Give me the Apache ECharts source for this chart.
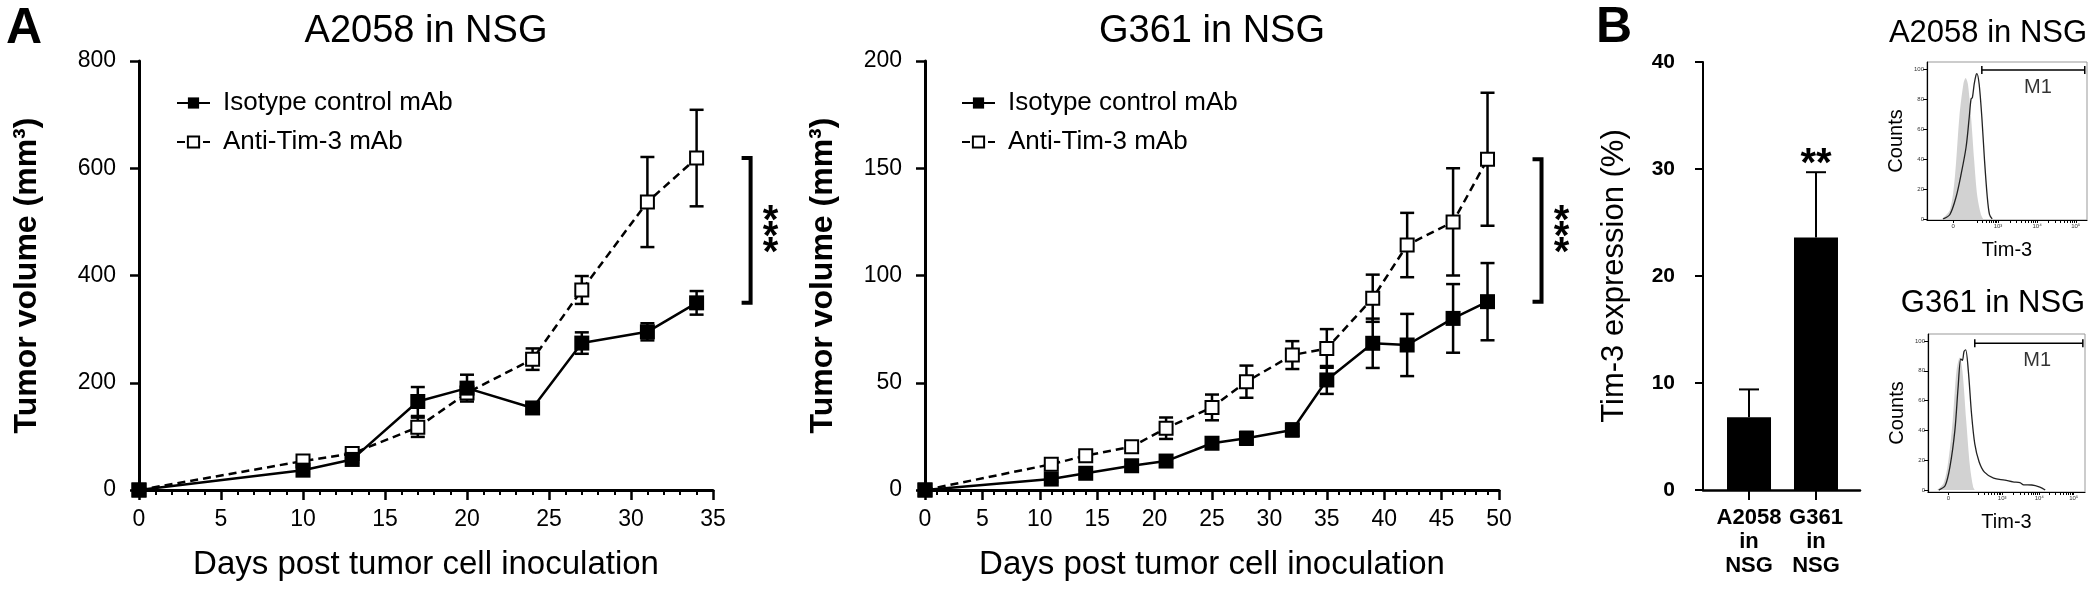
<!DOCTYPE html>
<html>
<head>
<meta charset="utf-8">
<script src="https://cdn.jsdelivr.net/npm/echarts@6/dist/echarts.min.js"></script>
<style>
html, body { margin: 0; padding: 0; background: #fff; }
#chart { width: 2100px; height: 591px; }
</style>
</head>
<body>
<div id="chart"></div>
<script>
const FONT = "'Liberation Sans', Arial, sans-serif";
const isoName = 'Isotype control mAb';
const antiName = 'Anti-Tim-3 mAb';

// A2058 in NSG (mean, SEM)
const daysA = [0, 10, 13, 17, 20, 24, 27, 31, 34];
const isoA = [0, 37, 57, 165, 190, 153, 274, 295, 349];
const isoAErr = [3, 5, 6, 27, 25, 7, 20, 16, 22];
const antiA = [0, 54, 68, 117, 181, 244, 373, 537, 619];
const antiAErr = [3, 5, 6, 18, 10, 20, 26, 84, 90];

// G361 in NSG
const daysG = [0, 11, 14, 18, 21, 25, 28, 32, 35, 39, 42, 46, 49];
const isoG = [0, 5.1, 7.8, 11.3, 13.5, 21.8, 24.1, 28, 51.3, 68.4, 67.6, 80, 87.8];
const isoGErr = [0.5, 1.2, 1.5, 2.3, 1.5, 2.5, 3, 3, 6.5, 11.5, 14.5, 16, 18];
const antiG = [0, 12, 16, 20.2, 28.8, 38.5, 50.5, 62.9, 66, 89.4, 114.2, 125, 154.2];
const antiGErr = [0.5, 1.5, 1.5, 2, 5, 6, 7.5, 6.5, 9, 11, 15, 25, 31];

// panel B
const barCats = ['A2058\nin\nNSG', 'G361\nin\nNSG'];
const barVals = [6.8, 23.6];
const barErrs = [2.6, 6.1];
const barSig = ['', '**'];

// flow histograms (x in display units: 0 -> "0", 1 -> 10^3)
const histTickLabels = ['0', '10³', '10⁴', '10⁵'];
const h1TickPos = [0, 1, 1.87, 2.73];
const h2TickPos = [0, 1, 1.69, 2.33];
const h1GrayX = [-0.25, -0.07, 0.04, 0.14, 0.23, 0.28, 0.33, 0.40, 0.47, 0.54, 0.62, 0.67];
const h1GrayY = [0, 6, 28, 68, 90, 94, 90, 68, 39, 15, 3, 0];
const h1LineX = [-0.22, -0.07, 0.07, 0.18, 0.29, 0.36, 0.40, 0.43, 0.47, 0.51, 0.53, 0.58, 0.64, 0.70, 0.76, 0.81, 0.87];
const h1LineY = [0, 3, 15, 30, 48, 68, 80, 81, 90, 96, 97, 90, 68, 39, 15, 3, 0];
const h2GrayX = [-0.21, -0.09, 0, 0.08, 0.15, 0.21, 0.26, 0.33, 0.40, 0.46, 0.49];
const h2GrayY = [0, 4.5, 20, 47, 80, 89, 80, 47, 16, 2, 0];
const h2LineX = [-0.18, -0.06, 0.03, 0.12, 0.18, 0.23, 0.26, 0.29, 0.32, 0.37, 0.43, 0.49, 0.57, 0.67, 0.84, 1.05, 1.2, 1.33, 1.4, 1.55, 1.7, 1.8];
const h2LineY = [0, 3, 16, 40, 69, 88, 87, 93, 94, 80, 51, 31, 19, 12, 8, 6.7, 5.5, 5, 3.5, 3.4, 2, 0];
const h1Gate = [0.64, 2.93], h1GateY = 99.3, h1LabelPos = [1.89, 88];
const h2Gate = [0.49, 2.50], h2GateY = 98.5, h2LabelPos = [1.65, 86.6];

const zip = (xs, ys) => xs.map((x, i) => [x, ys[i]]);

function logTicks(pos) {
  const out = pos.slice();
  for (let i = 1; i < pos.length - 1; i++) {
    for (let k = 2; k < 10; k++) out.push(pos[i] + Math.log10(k) * (pos[i + 1] - pos[i]));
  }
  for (let k = 2; k < 10; k++) out.push(0.35 + Math.log10(k) * 0.65);
  return out;
}

function lineSeries(name, days, vals, gi, filled) {
  return {
    name: name, type: 'line', xAxisIndex: gi, yAxisIndex: gi, z: 3,
    data: zip(days, vals),
    symbol: 'rect', symbolSize: filled ? 15 : 13,
    itemStyle: filled ? { color: '#000' } : { color: '#fff', borderColor: '#000', borderWidth: 2 },
    lineStyle: { color: '#000', width: 2.5, type: filled ? 'solid' : [8, 5] }
  };
}

function errSeries(days, vals, errs, gi, capHalf, lw, upOnly, sig) {
  return {
    type: 'custom', xAxisIndex: gi, yAxisIndex: gi, z: 2, silent: true, clip: false,
    data: days.map((d, i) => [d, vals[i], errs[i]]),
    encode: { x: 0, y: [1] },
    renderItem: function (params, api) {
      const x = api.value(0), m = api.value(1), e = api.value(2);
      const top = api.coord([x, m + e]);
      const bot = api.coord([x, upOnly ? m : m - e]);
      const st = { stroke: '#000', lineWidth: lw };
      const kids = [
        { type: 'line', shape: { x1: top[0], y1: top[1], x2: bot[0], y2: bot[1] }, style: st },
        { type: 'line', shape: { x1: top[0] - capHalf, y1: top[1], x2: top[0] + capHalf, y2: top[1] }, style: st }
      ];
      if (!upOnly) {
        kids.push({ type: 'line', shape: { x1: bot[0] - capHalf, y1: bot[1], x2: bot[0] + capHalf, y2: bot[1] }, style: st });
      }
      if (sig && sig[params.dataIndex]) {
        kids.push({ type: 'text', x: top[0], y: top[1] + 13,
          style: { text: sig[params.dataIndex], font: 'bold 40px ' + FONT, fill: '#000', align: 'center', verticalAlign: 'bottom' } });
      }
      return { type: 'group', children: kids };
    }
  };
}

// significance bracket between the last means of the two groups
function bracketSeries(days, iso, anti, gi) {
  const n = days.length - 1;
  return {
    type: 'custom', xAxisIndex: gi, yAxisIndex: gi, silent: true, clip: false,
    data: [[days[n], iso[n], anti[n]]],
    encode: { x: 0, y: [1, 2] },
    renderItem: function (params, api) {
      const lo = api.coord([api.value(0), api.value(1)]);
      const hi = api.coord([api.value(0), api.value(2)]);
      const x = lo[0] + 54;
      return { type: 'group', children: [
        { type: 'polyline', shape: { points: [[x - 9, hi[1]], [x, hi[1]], [x, lo[1]], [x - 9, lo[1]]] },
          style: { stroke: '#000', lineWidth: 4, fill: 'none' } },
        { type: 'text', x: x + 20, y: (lo[1] + hi[1]) / 2 + 8,
          style: { text: '*\n*\n*', font: 'bold 40px ' + FONT, lineHeight: 16, fill: '#000', align: 'center', verticalAlign: 'middle' } }
      ] };
    }
  };
}

function timeAxis(gi, max) {
  return {
    type: 'value', gridIndex: gi, min: 0, max: max, interval: 5,
    name: 'Days post tumor cell inoculation', nameLocation: 'middle', nameGap: 58,
    nameTextStyle: { fontSize: 33, fontFamily: FONT, color: '#000' },
    axisLine: { lineStyle: { color: '#000', width: 3 } },
    axisTick: { length: 10, lineStyle: { color: '#000', width: 2.5 } },
    minorTick: { show: true, splitNumber: 5, length: 5, lineStyle: { color: '#000', width: 2 } },
    axisLabel: { fontSize: 23, fontFamily: FONT, color: '#000', margin: 18 },
    splitLine: { show: false }
  };
}

function volAxis(gi, max, step, gap) {
  return {
    type: 'value', gridIndex: gi, min: 0, max: max, interval: step,
    name: 'Tumor volume (mm³)', nameLocation: 'middle', nameGap: gap,
    nameTextStyle: { fontSize: 32, fontWeight: 'bold', fontFamily: FONT, color: '#000' },
    axisLine: { show: true, lineStyle: { color: '#000', width: 3 } },
    axisTick: { show: true, length: 9, lineStyle: { color: '#000', width: 2.5 } },
    axisLabel: { fontSize: 23, fontFamily: FONT, color: '#000', margin: 23 },
    splitLine: { show: false }
  };
}

function histXAxis(gi, min, max, pos) {
  return {
    type: 'value', gridIndex: gi, min: min, max: max,
    name: 'Tim-3', nameLocation: 'middle', nameGap: 20,
    nameTextStyle: { fontSize: 20, fontFamily: FONT, color: '#000' },
    axisLine: { onZero: false, lineStyle: { color: '#000', width: 1.2 } },
    axisTick: { customValues: logTicks(pos), length: 3, lineStyle: { color: '#000', width: 1 } },
    axisLabel: { customValues: pos, fontSize: 6, margin: 3, color: '#333', fontFamily: FONT,
      formatter: v => histTickLabels[pos.indexOf(pos.reduce((a, b) => Math.abs(b - v) < Math.abs(a - v) ? b : a))] },
    splitLine: { show: false }
  };
}

function histYAxis(gi, min, max) {
  const ticks = [0, 20, 40, 60, 80, 100];
  return {
    type: 'value', gridIndex: gi, min: min, max: max,
    name: 'Counts', nameLocation: 'middle', nameGap: 21,
    nameTextStyle: { fontSize: 20, fontFamily: FONT, color: '#000' },
    axisLine: { show: true, onZero: false, lineStyle: { color: '#000', width: 1.2 } },
    axisTick: { show: true, customValues: ticks, length: 4, lineStyle: { color: '#000', width: 1 } },
    axisLabel: { customValues: ticks, fontSize: 6, margin: 3, color: '#333', fontFamily: FONT },
    splitLine: { show: false }
  };
}

function histSeries(gi, gx, gy, lx, ly, gate, gateY, labelPos) {
  return [
    { type: 'line', xAxisIndex: gi, yAxisIndex: gi, z: 1, data: zip(gx, gy), symbol: 'none', smooth: 0.3,
      lineStyle: { width: 0 }, areaStyle: { color: '#d2d2d2', opacity: 1 } },
    { type: 'line', xAxisIndex: gi, yAxisIndex: gi, z: 2, data: zip(lx, ly), symbol: 'none', smooth: 0.3,
      lineStyle: { color: '#222', width: 1.3 } },
    { type: 'line', xAxisIndex: gi, yAxisIndex: gi, z: 3, data: [[gate[0], gateY], [gate[1], gateY]],
      symbol: 'rect', symbolSize: [1.5, 8], itemStyle: { color: '#000' }, lineStyle: { color: '#000', width: 1.5 } },
    { type: 'scatter', xAxisIndex: gi, yAxisIndex: gi, data: [labelPos], symbolSize: 0,
      label: { show: true, position: 'inside', formatter: 'M1', fontSize: 20, fontFamily: FONT, color: '#000' } }
  ];
}

const legendBase = {
  data: [isoName, antiName], orient: 'vertical', top: 85, itemWidth: 33, itemHeight: 14, itemGap: 13,
  selectedMode: false, textStyle: { fontSize: 26, fontFamily: FONT, color: '#000', padding: [0, 0, 0, 8] }
};

const option = {
  animation: false,
  backgroundColor: '#fff',
  textStyle: { fontFamily: FONT },
  title: [
    { text: 'A', left: 6, top: 4, padding: 0, textStyle: { fontSize: 50, fontWeight: 'bold', fontFamily: FONT, color: '#000' } },
    { text: 'A2058 in NSG', left: 426, top: 13, padding: 0, textAlign: 'center', textStyle: { fontSize: 38, fontWeight: 'normal', fontFamily: FONT, color: '#000' } },
    { text: 'G361 in NSG', left: 1212, top: 13, padding: 0, textAlign: 'center', textStyle: { fontSize: 38, fontWeight: 'normal', fontFamily: FONT, color: '#000' } },
    { text: 'B', left: 1596, top: 3, padding: 0, textStyle: { fontSize: 50, fontWeight: 'bold', fontFamily: FONT, color: '#000' } },
    { text: 'A2058 in NSG', left: 1988, top: 18, padding: 0, textAlign: 'center', textStyle: { fontSize: 31, fontWeight: 'normal', fontFamily: FONT, color: '#000' } },
    { text: 'G361 in NSG', left: 1993, top: 288, padding: 0, textAlign: 'center', textStyle: { fontSize: 31, fontWeight: 'normal', fontFamily: FONT, color: '#000' } }
  ],
  legend: [
    Object.assign({}, legendBase, { left: 171 }),
    Object.assign({}, legendBase, { left: 956 })
  ],
  grid: [
    { left: 139, top: 61, width: 574, height: 429, containLabel: false, outerBoundsMode: 'none' },
    { left: 925, top: 61, width: 574, height: 429, containLabel: false, outerBoundsMode: 'none' },
    { left: 1703, top: 62, width: 157, height: 428, containLabel: false, outerBoundsMode: 'none' },
    { left: 1927, top: 62, width: 160, height: 158, show: true, borderColor: '#999', borderWidth: 1, containLabel: false, outerBoundsMode: 'none' },
    { left: 1928, top: 334, width: 157, height: 158, show: true, borderColor: '#999', borderWidth: 1, containLabel: false, outerBoundsMode: 'none' }
  ],
  xAxis: [
    timeAxis(0, 35),
    timeAxis(1, 50),
    {
      type: 'value', gridIndex: 2, min: 0.313, max: 2.657,
      axisLine: { onZero: false, lineStyle: { color: '#000', width: 2.5 } },
      axisTick: { customValues: [1, 2], length: 10, lineStyle: { color: '#000', width: 2 } },
      axisLabel: { customValues: [1, 2], formatter: v => barCats[Math.round(v) - 1], fontSize: 22, fontWeight: 'bold',
        lineHeight: 24, fontFamily: FONT, color: '#000', margin: 16 },
      splitLine: { show: false }
    },
    histXAxis(3, -0.58, 2.98, h1TickPos),
    histXAxis(4, -0.38, 2.54, h2TickPos)
  ],
  yAxis: [
    volAxis(0, 800, 200, 96),
    volAxis(1, 200, 50, 86),
    {
      type: 'value', gridIndex: 2, min: 0, max: 40, interval: 10,
      name: 'Tim-3 expression (%)', nameLocation: 'middle', nameGap: 73,
      nameTextStyle: { fontSize: 31, fontFamily: FONT, color: '#000' },
      axisLine: { show: true, lineStyle: { color: '#000', width: 2 } },
      axisTick: { show: true, length: 8, lineStyle: { color: '#000', width: 2 } },
      axisLabel: { fontSize: 21, fontWeight: 'bold', fontFamily: FONT, color: '#000', margin: 28 },
      splitLine: { show: false }
    },
    histYAxis(3, -0.7, 104.7),
    histYAxis(4, -1.3, 104.7)
  ],
  series: [
    errSeries(daysA, isoA, isoAErr, 0, 7, 2.5),
    errSeries(daysA, antiA, antiAErr, 0, 7, 2.5),
    lineSeries(antiName, daysA, antiA, 0, false),
    lineSeries(isoName, daysA, isoA, 0, true),
    bracketSeries(daysA, isoA, antiA, 0),

    errSeries(daysG, isoG, isoGErr, 1, 7, 2.5),
    errSeries(daysG, antiG, antiGErr, 1, 7, 2.5),
    lineSeries(antiName, daysG, antiG, 1, false),
    lineSeries(isoName, daysG, isoG, 1, true),
    bracketSeries(daysG, isoG, antiG, 1),

    {
      type: 'bar', xAxisIndex: 2, yAxisIndex: 2, barWidth: 44, z: 2,
      data: barVals.map((v, i) => [i + 1, v]),
      itemStyle: { color: '#000' }
    },
    errSeries([1, 2], barVals, barErrs, 2, 10, 2, true, barSig)
  ]
    .concat(histSeries(3, h1GrayX, h1GrayY, h1LineX, h1LineY, h1Gate, h1GateY, h1LabelPos))
    .concat(histSeries(4, h2GrayX, h2GrayY, h2LineX, h2LineY, h2Gate, h2GateY, h2LabelPos))
};

const chart = echarts.init(document.getElementById('chart'));
chart.setOption(option);
</script>
</body>
</html>
